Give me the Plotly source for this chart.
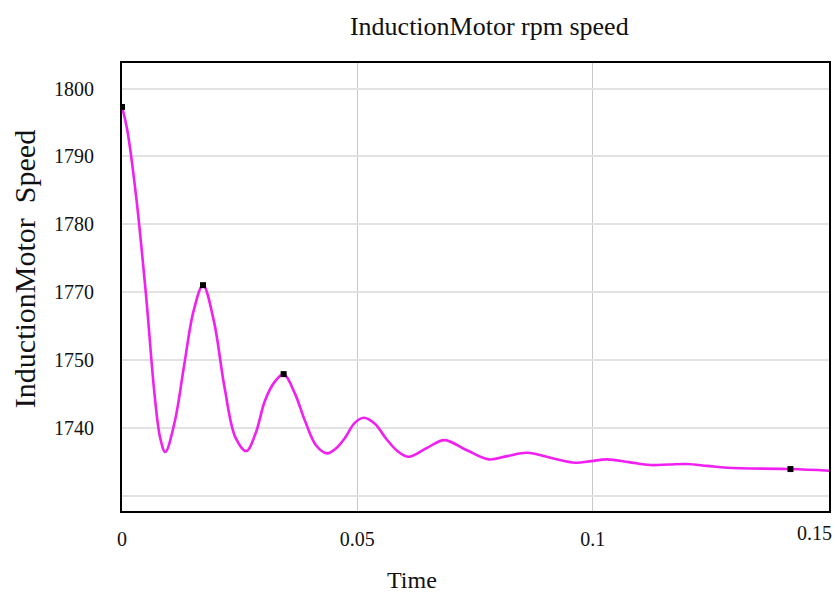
import plotly.graph_objects as go

# Data
time_s = [0.0, 0.00106, 0.00297, 0.0051, 0.00693, 0.00812, 0.0092,
          0.0112, 0.0132, 0.0152, 0.01721,
          0.0195, 0.0218, 0.0241, 0.02641,
          0.02839, 0.03037, 0.03235, 0.03434,
          0.03665, 0.03895, 0.04125, 0.04356,
          0.0455, 0.04745, 0.0494, 0.05134,
          0.05373, 0.05612, 0.0585, 0.0609,
          0.06466, 0.06849, 0.07316, 0.0779, 0.08188, 0.08606,
          0.09123, 0.09632, 0.0997, 0.10306, 0.10766, 0.11226, 0.11616, 0.12006,
          0.1243, 0.12856, 0.14201, 0.1503]
speed_rpm = [1797.29, 1794.11, 1784.29, 1769.56, 1754.83, 1748.5, 1746.44,
             1750.9, 1759.2, 1767.2, 1771.03,
             1765.8, 1755.9, 1748.6, 1746.58,
             1749.2, 1754.0, 1756.7, 1757.92,
             1755.2, 1750.9, 1747.4, 1746.24,
             1747.0, 1748.6, 1750.7, 1751.49,
             1750.6, 1748.4, 1746.6, 1745.74,
             1747.0, 1748.2, 1746.73, 1745.36, 1745.84, 1746.33,
             1745.55, 1744.86, 1745.1, 1745.36, 1744.95, 1744.52, 1744.6, 1744.67,
             1744.4, 1744.12, 1743.93, 1743.68]

marker_time = [0.0, 0.01721, 0.03434, 0.14201]
marker_speed = [1797.29, 1771.03, 1757.92, 1743.93]

y_tick_vals = [1800, 1790, 1780, 1770, 1760, 1750, 1740]
y_tick_text = ["1800", "1790", "1780", "1770", "1750", "1740", ""]
x_tick_vals = [0, 0.05, 0.1, 0.15]
x_tick_text = ["0", "0.05", "0.1", ""]
last_x_label = "0.15"

FONT = "Liberation Serif, Times New Roman, serif"

fig = go.Figure()
fig.add_trace(go.Scatter(
    x=time_s, y=speed_rpm, mode="lines",
    line=dict(color="#f020f0", width=2.6, shape="spline", smoothing=1.0),
    hoverinfo="skip", showlegend=False))
fig.add_trace(go.Scatter(
    x=marker_time, y=marker_speed, mode="markers",
    marker=dict(color="black", size=6, symbol="square"),
    showlegend=False))

fig.update_layout(
    width=835, height=592,
    margin=dict(l=122, r=6, t=63, b=81, autoexpand=False),
    paper_bgcolor="white", plot_bgcolor="white",
    font=dict(family=FONT, color="#111111"),
    title=dict(text="InductionMotor rpm speed", x=0.586, xref="container", xanchor="center",
               y=0.957, yref="container", yanchor="middle",
               font=dict(family=FONT, size=26, color="#111111")),
    xaxis=dict(range=[0, 0.1502], tickvals=x_tick_vals, ticktext=x_tick_text,
               showgrid=True, gridcolor="#c8c8c8", gridwidth=1,
               showline=True, mirror=True, linecolor="black", linewidth=2,
               zeroline=False, ticks="", ticklabelstandoff=9, automargin=False,
               tickfont=dict(family=FONT, size=20, color="#111111")),
    yaxis=dict(range=[1737.75, 1803.77], tickvals=y_tick_vals, ticktext=y_tick_text,
               showgrid=True, gridcolor="#e2e2e2", gridwidth=1.5,
               showline=True, mirror=True, linecolor="black", linewidth=2,
               zeroline=False, ticks="", ticklabelstandoff=22, automargin=False,
               tickfont=dict(family=FONT, size=20, color="#111111")),
    annotations=[
        dict(text=last_x_label, xref="x", yref="paper", x=x_tick_vals[-1], y=0,
             xanchor="center", yanchor="top", xshift=-14, yshift=-9, showarrow=False,
             font=dict(family=FONT, size=20, color="#111111")),
        dict(text="Time", xref="paper", yref="paper", x=0.41, y=-0.154,
             xanchor="center", yanchor="middle", showarrow=False,
             font=dict(family=FONT, size=24, color="#111111")),
        dict(text="InductionMotor  Speed", xref="paper", yref="paper", x=-0.1385, y=0.54,
             xanchor="center", yanchor="middle", showarrow=False, textangle=-90,
             font=dict(family=FONT, size=30, color="#111111")),
    ],
)

fig.write_html("out.html", config={"displayModeBar": False},
               post_script="document.body.style.margin='0';")
